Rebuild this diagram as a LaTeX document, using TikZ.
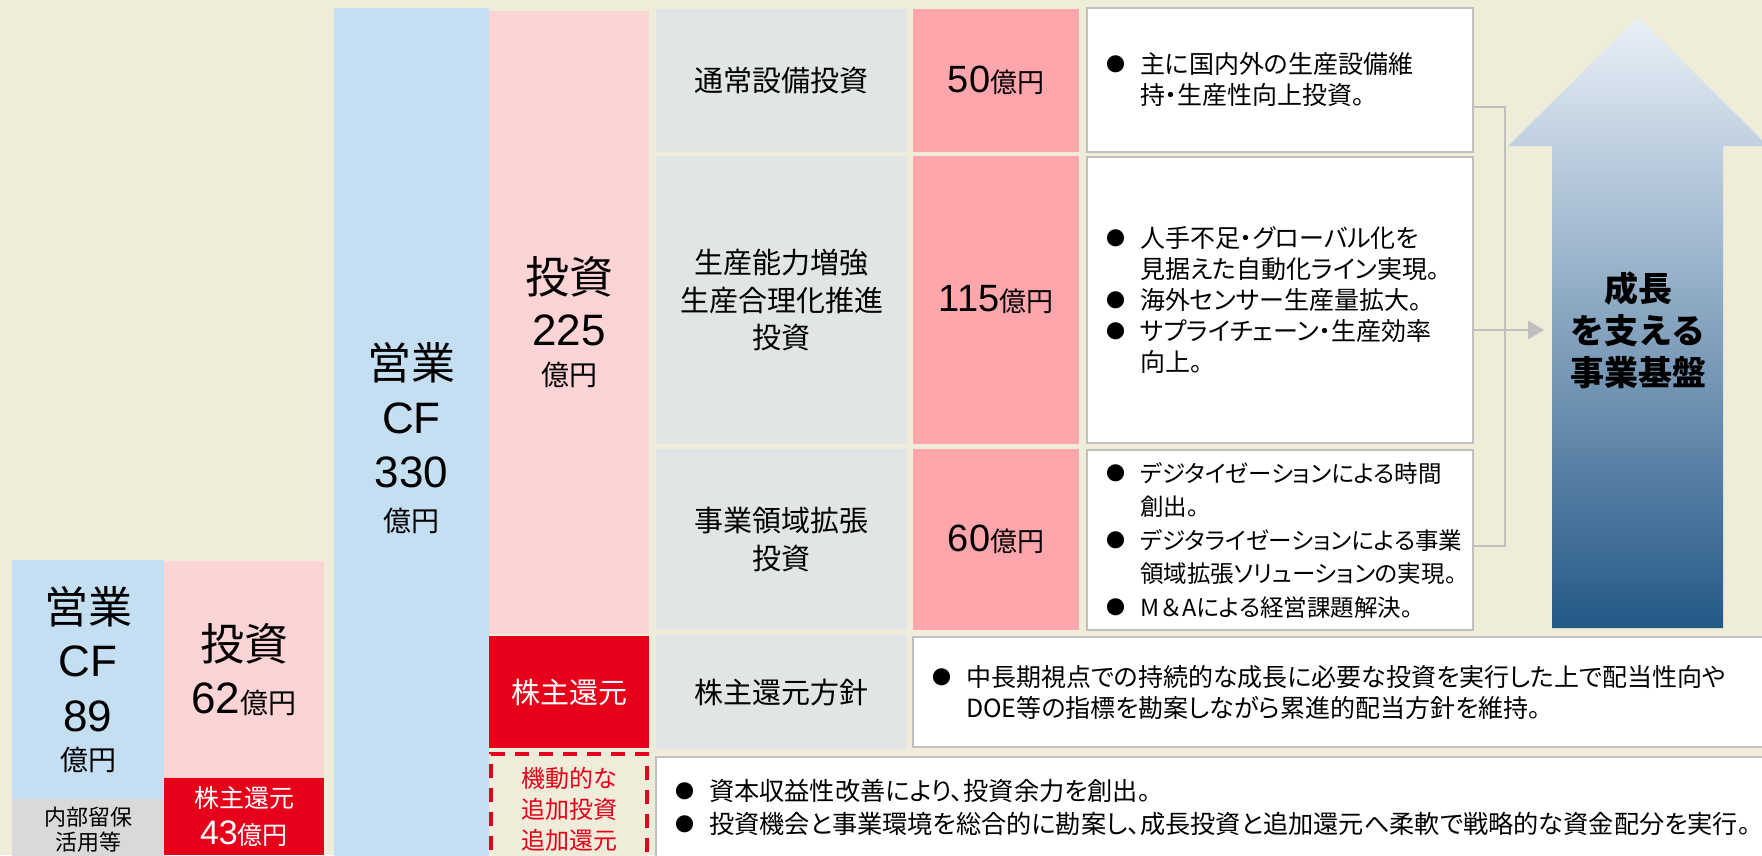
\documentclass[tikz,border=0pt]{standalone}
\usepackage{fontspec}
\setmainfont{Noto Sans CJK JP}
\newfontfamily\lat{Liberation Sans}
\newfontfamily\jpp{Noto Sans CJK JP}[RawFeature=+palt]
\usetikzlibrary{arrows.meta}

\definecolor{bgbeige}{RGB}{239,236,217}
\definecolor{cfblue}{RGB}{196,222,242}
\definecolor{invpink}{RGB}{253,212,213}
\definecolor{retred}{RGB}{230,0,26}
\definecolor{itemgray}{RGB}{225,229,230}
\definecolor{amtpink}{RGB}{255,166,173}
\definecolor{keepgray}{RGB}{217,217,217}
\definecolor{boxgray}{RGB}{191,191,191}
\definecolor{arrowtop}{RGB}{233,240,248}
\definecolor{arrowbot}{RGB}{37,89,135}

\newcommand{\fs}[2]{\fontsize{#1}{#2}\selectfont}
\newcommand{\bul}{\makebox[34pt][l]{\raisebox{2pt}{\fs{19}{19}●}}}
\newcommand{\ind}{\makebox[34pt]{}}
\newcommand{\oku}[1]{{\fs{#1}{#1}億円}}

\begin{document}
\begin{tikzpicture}[x=1pt,y=-1pt]
	\tikzstyle{block} = [rectangle, inner sep=0pt, outer sep=0pt, align=center]
	\tikzstyle{notebox} = [rectangle, draw=boxgray, line width=2pt, fill=white,
		outer sep=0pt, inner xsep=19pt, inner ysep=0pt, align=left,
		font=\jpp\fs{25}{31}]
	\tikzstyle{conn} = [draw=boxgray, line width=2.5pt, >={Triangle[length=16pt,width=18pt]}]
	\useasboundingbox (0,0) rectangle (1762,855);
	\fill[bgbeige] (0,0) rectangle (1762,855);

	% left: this year
	\node[block, fill=cfblue, minimum width=152pt, minimum height=239pt, font=\fs{44}{53}] (cfs) at (88,679.5) {営業\\{\lat CF}\\[2pt]{\lat 89}\\[-14pt]\oku{28}};
	\node[block, fill=keepgray, minimum width=152pt, minimum height=61pt, font=\fs{22}{25}] (keep) at (88,829.5) {内部留保\\活用等};
	\node[block, fill=invpink, minimum width=160pt, minimum height=218pt, font=\fs{44}{53}] (invs) at (244,670) {投資\\{\lat 62}\oku{28}};
	\node[block, fill=retred, text=white, minimum width=160pt, minimum height=77pt, font=\fs{25}{37}] (rets) at (244,816.5) {株主還元\\{\lat\fs{34}{37}43}\oku{25}};

	% plan columns
	\node[block, fill=cfblue, minimum width=155pt, minimum height=861pt, font=\fs{44}{54}] (cfb) at (411.5,438) {営業\\{\lat CF}\\{\lat 330}\\[-10pt]\oku{28}};
	\node[block, fill=invpink, minimum width=160pt, minimum height=623pt, font=\fs{44}{52}] (invb) at (569,322) {投資\\{\lat 225}\\[-12pt]\oku{28}};
	\node[block, fill=retred, text=white, minimum width=160pt, minimum height=112pt, font=\fs{29}{29}] (retb) at (569,692) {株主還元};
	\node[block, draw=retred, line width=4pt, dash pattern=on 14pt off 10pt, fill=bgbeige, text=retred, minimum width=156pt, minimum height=110pt, font=\fs{24}{31}] (flex) at (569,809) {機動的な\\追加投資\\追加還元};

	% items
	\node[block, fill=itemgray, minimum width=251pt, minimum height=143pt, font=\fs{29}{37.5}] (item1) at (781.5,80.5) {通常設備投資};
	\node[block, fill=itemgray, minimum width=251pt, minimum height=288pt, font=\fs{29}{37.5}] (item2) at (781.5,300) {生産能力増強\\生産合理化推進\\投資};
	\node[block, fill=itemgray, minimum width=251pt, minimum height=181pt, font=\fs{29}{37.5}] (item3) at (781.5,539.5) {事業領域拡張\\投資};
	\node[block, fill=itemgray, minimum width=251pt, minimum height=114pt, font=\fs{29}{37.5}] (item4) at (781.5,692) {株主還元方針};

	% amounts
	\node[block, fill=amtpink, minimum width=166pt, minimum height=143pt] (amt1) at (996,80.5) {{\lat\fs{38}{38}50}\oku{27}};
	\node[block, fill=amtpink, minimum width=166pt, minimum height=288pt] (amt2) at (996,300) {{\lat\fs{38}{38}115}\oku{27}};
	\node[block, fill=amtpink, minimum width=166pt, minimum height=181pt] (amt3) at (996,539.5) {{\lat\fs{38}{38}60}\oku{27}};

	% notes
	\node[notebox, text width=348pt, minimum height=144pt] (note1) at (1280,80) {\bul 主に国内外の生産設備維\\\ind 持・生産性向上投資。};
	\node[notebox, text width=348pt, minimum height=286pt] (note2) at (1280,300) {\bul 人手不足・グローバル化を\\\ind 見据えた自動化ライン実現。\\\bul 海外センサー生産量拡大。\\\bul サプライチェーン・生産効率\\\ind 向上。};
	\node[notebox, text width=348pt, minimum height=180pt, font=\jpp\fs{23.5}{33.5}] (note3) at (1280,540) {\bul デジタイゼーションによる時間\\\ind 創出。\\\bul デジタライゼーションによる事業\\\ind 領域拡張ソリューションの実現。\\\bul M\hspace{2pt}＆\hspace{2pt}Aによる経営課題解決。};
	\node[notebox, text width=824pt, minimum height=110pt] (policy) at (1344,692) {\bul 中長期視点での持続的な成長に必要な投資を実行した上で配当性向や\\\ind DOE等の指標を勘案しながら累進的配当方針を維持。};
	\node[notebox, text width=1081pt, minimum height=100pt, font=\jpp\fs{25.2}{33}] (alloc) at (1215.5,807) {\bul 資本収益性改善により、投資余力を創出。\\\bul 投資機会と事業環境を総合的に勘案し、成長投資と追加還元へ柔軟で戦略的な資金配分を実行。};

	% growth arrow
	\shade[top color=arrowtop, bottom color=arrowbot] (1552,628) -- (1552,146) -- (1508,146) -- (1638,17) -- (1768,146) -- (1723,146) -- (1723,628) -- cycle;
	\node[font=\bfseries\fs{34}{42}, align=center] (base) at (1638,330) {成長\\を支える\\事業基盤};

	\coordinate (j1) at (1505,107);
	\coordinate (j2) at (1505,330);
	\coordinate (j3) at (1505,546);
	\coordinate (tip) at (1544,330);
	\draw (note1.east |- j1) -- (j1) -- (j3) -- (note3.east |- j3) [conn];
	\draw (note2.east |- j2) -- (tip) [conn,->];
\end{tikzpicture}
\end{document}
